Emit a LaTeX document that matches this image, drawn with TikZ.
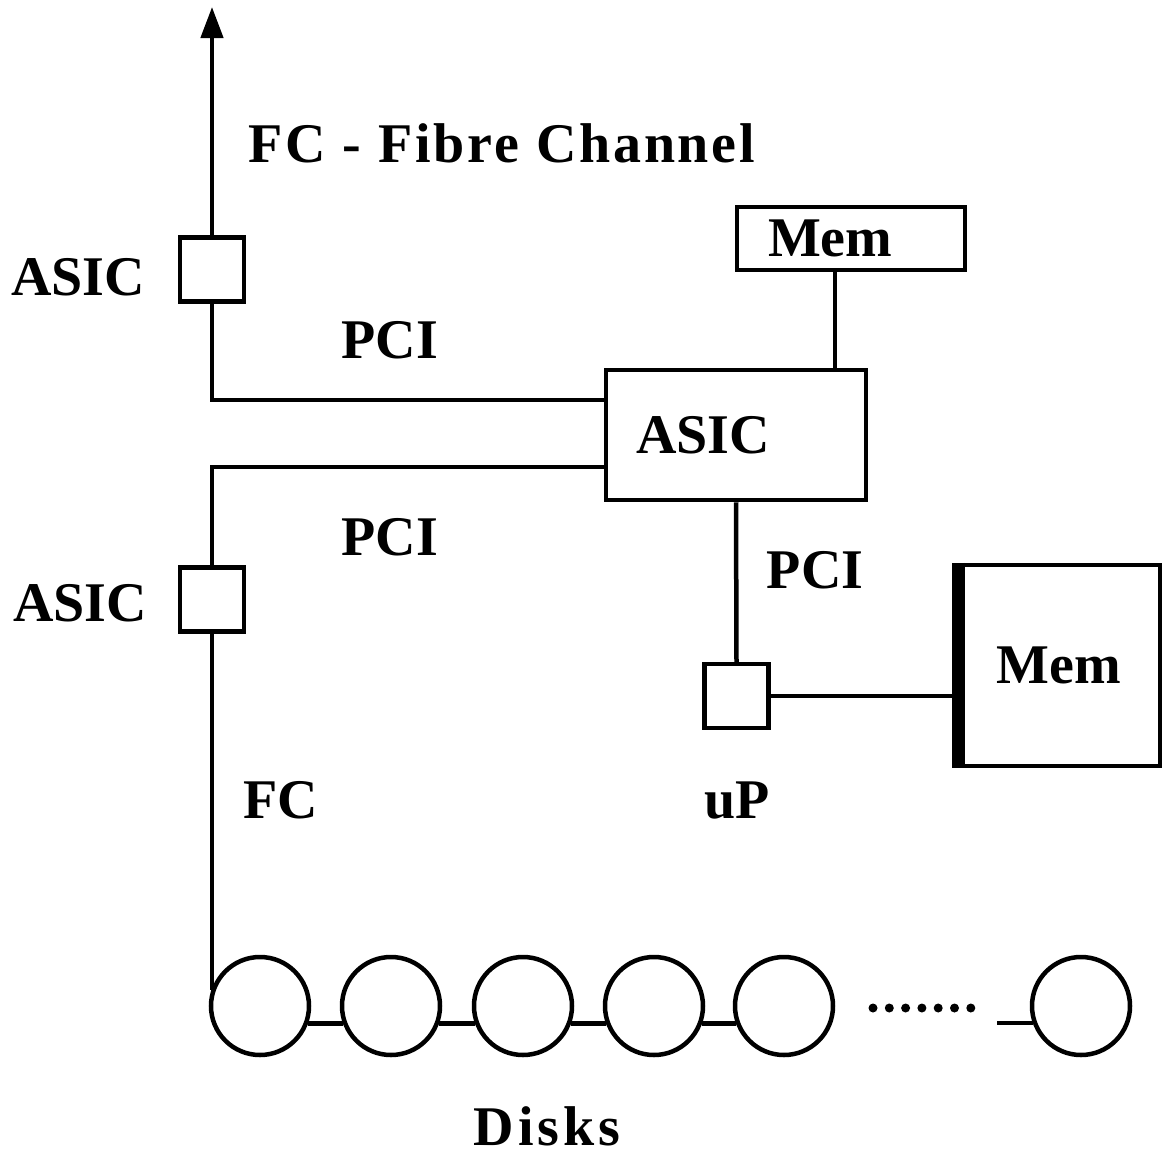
\documentclass[tikz,border=0pt]{standalone}
\usepackage{fontspec}
\setmainfont{Liberation Serif}
\usetikzlibrary{arrows.meta}

\begin{document}
\begin{tikzpicture}[
  x=1pt,
  y=-1pt,
  line width=4.5pt,
  >={Triangle[length=31pt,width=22pt]},
  every node/.style={font=\fontsize{56}{60}\selectfont\bfseries},
  lbl/.style={inner sep=0pt},
  chip/.style={draw, minimum width=64pt, minimum height=64pt, inner sep=0pt},
  box/.style={draw, align=left, inner ysep=0pt},
  disk/.style={draw, circle, minimum size=98pt, inner sep=0pt},
]
  \useasboundingbox (0,0) rectangle (1165,1154);

  % chips and memories
  \node[chip] (asicA) at (212,269.5) {};
  \node[chip] (asicB) at (212,599.5) {};
  \node[chip] (up) at (736.5,696) {};
  \node[box, minimum width=260pt, minimum height=130pt, inner xsep=30pt,
        text width=200pt] (asicM) at (736,435) {ASIC};
  \node[box, minimum width=228pt, minimum height=63pt, inner xsep=31pt,
        text width=166pt] (memA) at (851,238.5) {Mem};
  \node[draw, minimum width=202pt, minimum height=201pt] (memB) at (1059,665.5) {Mem};
  \draw[line width=13pt] ([xshift=2.5pt]memB.north west) -- ([xshift=2.5pt]memB.south west);

  % disks
  \foreach \n/\x in {1/260,2/391,3/523,4/654,5/784,6/1081}
    \node[disk] (d\n) at (\x,1006) {};
  \foreach \i in {0,...,6}
    \fill (873+16.3*\i,1008) circle (4.5pt);
  \coordinate (dlink) at (997,1023);

  % buses
  \coordinate (fcout) at (212,7);
  \draw[->] (asicA.north) -- (fcout);
  \draw (asicA.south) |- ([yshift=35pt]asicM.west);
  \draw ([yshift=-32pt]asicM.west) -| (asicB.north);
  \draw (asicB.south) -- (asicB.south |- d1.162);
  \draw ([xshift=-16pt]memA.south) -- ([xshift=-16pt]memA.south |- asicM.north);
  \draw (asicM.south) -- (up.north);
  \draw (up.east) -- (up.east -| memB.west);
  \foreach \a/\b in {d1/d2,d2/d3,d3/d4,d4/d5}
    \draw (\a.-20) -- (\b.200);
  \draw (dlink) -- (dlink -| d6.200);

  % labels
  \node[lbl] (fcTitle) at (502,143) {\addfontfeatures{LetterSpace=5}FC - Fibre Channel};
  \node[lbl] (asicAL) at (78,277) {ASIC};
  \node[lbl] (asicBL) at (80,603) {ASIC};
  \node[lbl] (pciA) at (390,340) {PCI};
  \node[lbl] (pciB) at (390,537) {PCI};
  \node[lbl] (pciC) at (815,570) {PCI};
  \node[lbl] (fcL) at (281,800) {FC};
  \node[lbl] (upL) at (737,800) {uP};
  \node[lbl] (disksL) at (547,1126) {\addfontfeatures{LetterSpace=7}Disks};
\end{tikzpicture}
\end{document}
